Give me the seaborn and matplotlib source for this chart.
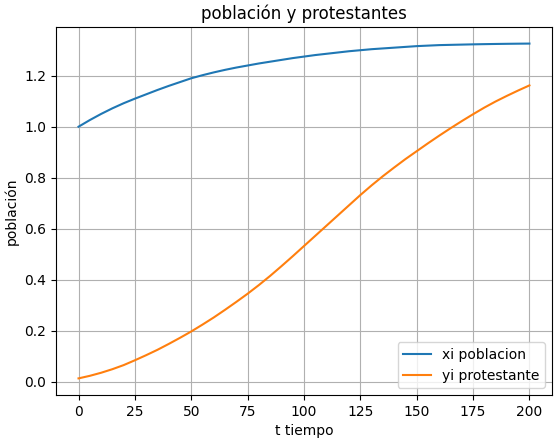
import pandas as pd
import seaborn as sns
import matplotlib.pyplot as plt

# valores (cada 5 unidades de tiempo)
t = list(range(0, 205, 5))
xi = [1.000, 1.026, 1.050, 1.072, 1.092, 1.110, 1.127, 1.144, 1.160, 1.175,
      1.190, 1.202, 1.213, 1.223, 1.232, 1.240, 1.248, 1.255, 1.262, 1.269,
      1.275, 1.281, 1.286, 1.291, 1.296, 1.300, 1.304, 1.307, 1.310, 1.313,
      1.316, 1.318, 1.320, 1.321, 1.322, 1.323, 1.3238, 1.3245, 1.3251, 1.3256,
      1.326]
yi = [0.013, 0.023, 0.035, 0.049, 0.065, 0.084, 0.104, 0.125, 0.148, 0.172,
      0.197, 0.224, 0.252, 0.282, 0.313, 0.345, 0.379, 0.415, 0.453, 0.492,
      0.532, 0.572, 0.612, 0.652, 0.692, 0.732, 0.770, 0.806, 0.840, 0.873,
      0.904, 0.935, 0.965, 0.994, 1.022, 1.049, 1.075, 1.099, 1.121, 1.142,
      1.162]

df = pd.DataFrame({'t': t, 'xi': xi, 'yi': yi})

fig = plt.figure(figsize=(5.57, 4.4), dpi=100)
sns.lineplot(x='t', y='xi', data=df, label='xi poblacion', color='#1f77b4')
sns.lineplot(x='t', y='yi', data=df, label='yi protestante', color='#ff7f0e')

plt.xlabel('t tiempo')
plt.ylabel('población')
plt.title('población y protestantes')
plt.grid(True)
plt.legend(loc='lower right')

fig.subplots_adjust(left=0.1005, right=0.991, top=0.939, bottom=0.102)
plt.savefig('out.png', dpi=100)
